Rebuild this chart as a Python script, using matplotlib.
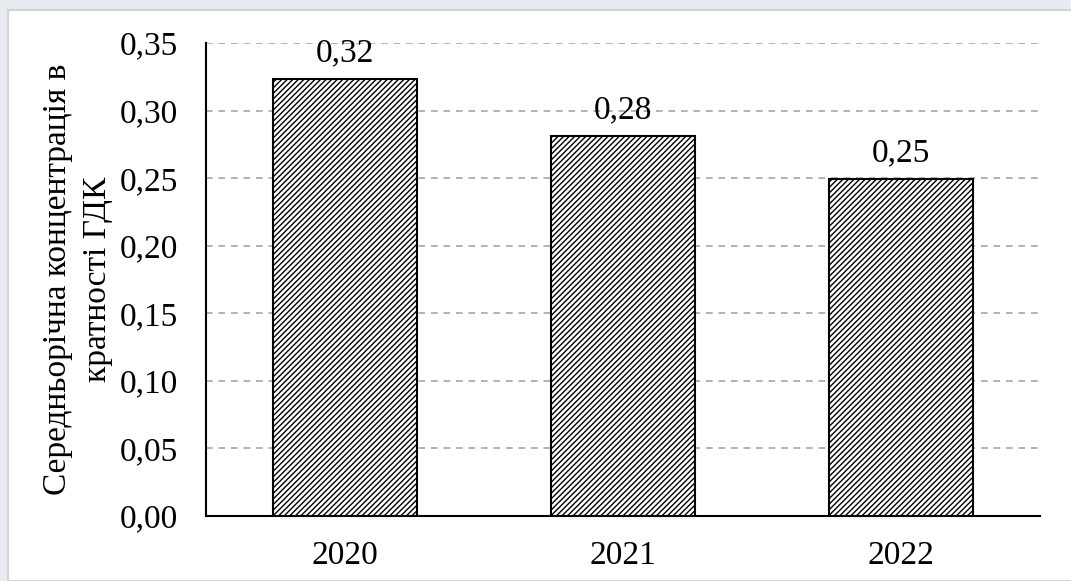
import matplotlib
matplotlib.use("Agg")
from matplotlib import pyplot as plt
from matplotlib.patches import Rectangle

years = ["2020", "2021", "2022"]
values = [0.323, 0.281, 0.249]
value_labels = ["0,32", "0,28", "0,25"]
y_ticks = [0.00, 0.05, 0.10, 0.15, 0.20, 0.25, 0.30, 0.35]
y_tick_labels = ["0,00", "0,05", "0,10", "0,15", "0,20", "0,25", "0,30", "0,35"]

plt.rcParams['font.family'] = ['Liberation Serif', 'DejaVu Serif']
plt.rcParams['hatch.linewidth'] = 1.0
plt.rcParams['hatch.color'] = 'black'

fs = 24

fig = plt.figure(figsize=(10.71, 5.81), dpi=100)
fig.patch.set_facecolor('#e8ecf0')
# white chart area with light border
fig.patches.append(Rectangle((8 / 1071, 0), 1.0, 1 - 10 / 581, transform=fig.transFigure,
                             facecolor='white', edgecolor='#d4d4d4', linewidth=1.5, zorder=-5))

ax = fig.add_axes([206 / 1071, 1 - 516 / 581, (1040 - 206) / 1071, (516 - 43) / 581])
ax.set_facecolor('none')

x = range(len(years))
bars = ax.bar(x, values, width=0.515, facecolor='white', edgecolor='black',
              linewidth=1.5, hatch='//////', zorder=3)

for xi, v, lab in zip(x, values, value_labels):
    ax.text(xi, v + 0.008, lab, ha='center', va='bottom', fontsize=fs)

ax.set_xlim(-0.5, 2.5)
ax.set_ylim(0, 0.35)
ax.set_yticks(y_ticks)
ax.set_yticklabels(y_tick_labels)
ax.set_xticks(list(x))
ax.set_xticklabels(years)
ax.tick_params(axis='both', which='both', length=0, labelsize=fs, colors='black')
ax.tick_params(axis='y', pad=20)
ax.tick_params(axis='x', pad=18)

ax.grid(True, axis='y', linestyle=(0, (4, 3.5)), color='#a6a6a6', linewidth=1.2, zorder=0)
ax.spines['top'].set_visible(False)
ax.spines['right'].set_visible(False)
ax.spines['left'].set_linewidth(1.5)
ax.spines['bottom'].set_linewidth(1.5)

ax.set_ylabel("Середньорічна концентрація в\nкратності ГДК", fontsize=fs, labelpad=5,
              linespacing=1.4)

plt.savefig("out.png", dpi=100, facecolor=fig.get_facecolor())
plt.close()
